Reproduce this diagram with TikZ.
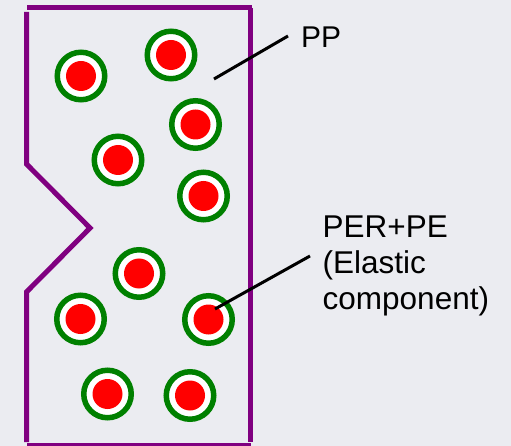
\documentclass[tikz,border=0pt]{standalone}
\usepackage{fontspec}
\setmainfont{Liberation Sans}
\definecolor{bgcol}{RGB}{235,236,241}
\definecolor{wallpurple}{RGB}{128,0,128}
\definecolor{ringgreen}{RGB}{0,128,0}
\definecolor{dotred}{RGB}{255,0,0}
\begin{document}
\begin{tikzpicture}[x=1pt,y=-1pt,
  wall/.style={draw=wallpurple,line width=5pt},
  particle/.style={circle,draw=ringgreen,line width=5.5pt,fill=white,minimum size=47.5pt,inner sep=0pt,
    path picture={\fill[dotred] (path picture bounding box.center) circle (15pt);}},
  leader/.style={draw=black,line width=3pt},
  lbl/.style={font=\fontsize{30}{36}\selectfont,inner sep=0pt,align=left},
  lblbig/.style={font=\fontsize{31.5}{36}\selectfont,inner sep=0pt,align=left}]
\fill[bgcol] (0,0) rectangle (511,446);
\useasboundingbox (0,0) rectangle (511,446);
% walls
\draw[wall] (27,7.5) -- (251.7,7.5);
\draw[wall] (250.8,8) -- (250.8,442);
\draw[wall] (26.5,12) -- (26.5,164) -- (90,228) -- (26.5,292) -- (26.5,442);
\draw[wall] (27,445) -- (251,445);
% particles
\node[particle] (c1) at (81,76) {};
\node[particle] (c2) at (171,55) {};
\node[particle] (c3) at (195.5,124.5) {};
\node[particle] (c4) at (118,160) {};
\node[particle] (c5) at (203.5,196) {};
\node[particle] (c6) at (139,273.5) {};
\node[particle] (c7) at (80.5,319) {};
\node[particle] (c8) at (208.5,319.5) {};
\node[particle] (c9) at (107.5,394) {};
\node[particle] (c10) at (190,395.5) {};
% labels
\node[lbl,anchor=base west] (pp) at (301,48) {PP};
\node[lblbig,anchor=north west] (per) at (322.5,215.5) {PER+PE\\(Elastic\\component)};
% leaders
\coordinate (ppa) at (214,79);
\coordinate (ppb) at (288,36);
\draw[leader] (ppa) -- (ppb);
\coordinate (pera) at (215,309);
\coordinate (perb) at (310,256);
\draw[leader] (pera) -- (perb);
\end{tikzpicture}
\end{document}
